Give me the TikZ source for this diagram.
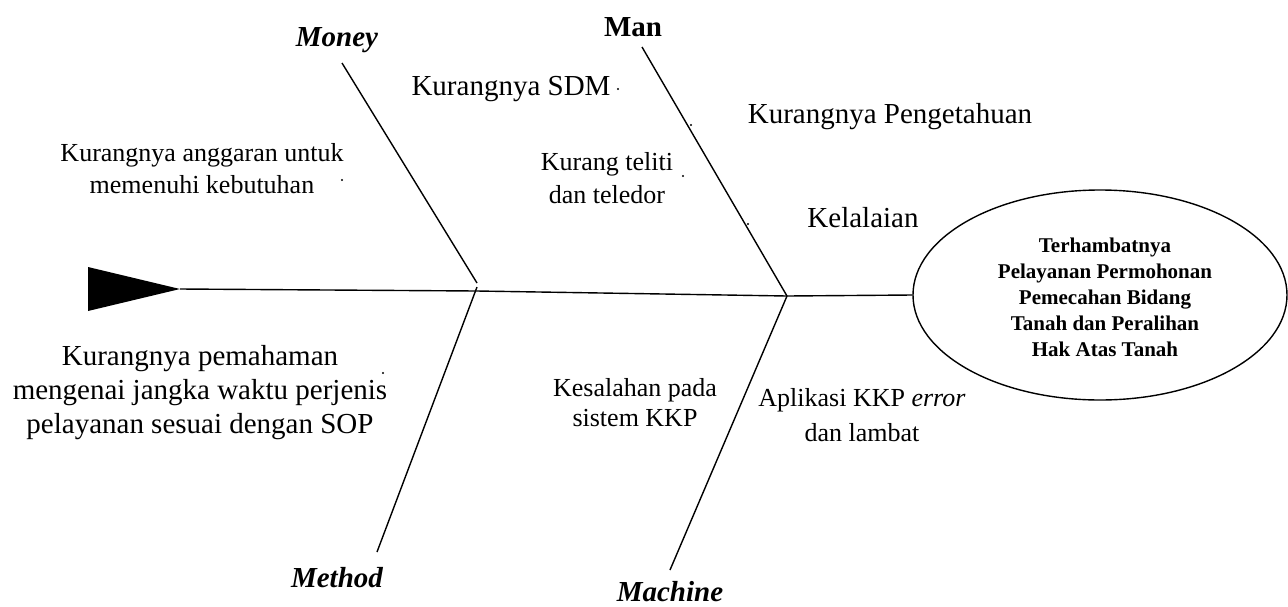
\documentclass[tikz,border=0pt]{standalone}
\usepackage{fontspec}
\setmainfont{Liberation Serif}
\usetikzlibrary{shapes.geometric}
\tikzset{
  bone/.style={line width=1.4pt},
  lbl/.style={font=\fontsize{29}{34}\selectfont\bfseries\itshape, inner sep=0pt},
  big/.style={font=\fontsize{29}{34}\selectfont, align=center, inner sep=0pt},
  mid/.style={font=\fontsize{26}{32}\selectfont, align=center, inner sep=0pt},
  speck/.style={fill=black, circle, inner sep=0pt, minimum size=2.2pt},
}
\begin{document}
\begin{tikzpicture}[x=1pt,y=-1pt]
\useasboundingbox (0,0) rectangle (1288,606);
% effect
\node[draw, ellipse, line width=1.4pt, minimum width=374pt, minimum height=210pt, inner sep=0pt] (effect) at (1100,295) {};
\node[font=\fontsize{21}{26}\selectfont\bfseries, align=center, inner sep=0pt] (efftext) at (1105,297)
  {Terhambatnya\\Pelayanan Permohonan\\Pemecahan Bidang\\Tanah dan Peralihan\\Hak Atas Tanah};
% spine
\coordinate (tip) at (180,289);
\coordinate (j1) at (477,291);
\coordinate (j2) at (787,296);
\coordinate (tailtop) at (88,267);
\coordinate (tailbot) at (88,311);
\fill (tailtop) -- (tip) -- (tailbot) -- cycle;
\draw[bone] (tip) -- (j1) -- (j2) -- (effect.west);
% bones
\coordinate (moneytop) at (342,63);
\coordinate (moneyend) at (477,283);
\coordinate (methodstart) at (477,287);
\coordinate (methodbot) at (377,552);
\coordinate (mantop) at (642,47);
\coordinate (machinebot) at (670,570);
\draw[bone] (moneytop) -- (moneyend);
\draw[bone] (methodstart) -- (methodbot);
\draw[bone] (mantop) -- (j2);
\draw[bone] (j2) -- (machinebot);
% category labels
\node[lbl] (money) at (337,40) {Money};
\node[lbl] (method) at (337,578) {Method};
\node[lbl, font=\fontsize{29}{34}\selectfont\bfseries] (man) at (633,27) {Man};
\node[lbl] (machine) at (670,592) {Machine};
% causes
\node[big] (sdm) at (511,89) {Kurangnya SDM};
\node[big] (penget) at (890,117) {Kurangnya Pengetahuan};
\node[big] (lalai) at (863,218) {Kelalaian};
\node[mid, font=\fontsize{26}{33}\selectfont] (teliti) at (607,178) {Kurang teliti\\dan teledor};
\node[mid] (anggaran) at (202,169) {Kurangnya anggaran untuk\\memenuhi kebutuhan};
\node[big] (paham) at (200,393) {Kurangnya pemahaman\\mengenai jangka waktu perjenis\\pelayanan sesuai dengan SOP};
\node[mid, font=\fontsize{26}{30}\selectfont] (kesalahan) at (635,403) {Kesalahan pada\\sistem KKP};
\node[mid, font=\fontsize{26}{35}\selectfont] (aplikasi) at (862,415) {Aplikasi KKP \textit{error}\\dan lambat};
% specks
\node[speck] (d1) at (618,89) {};
\node[speck] (d2) at (691,125) {};
\node[speck] (d3) at (683,176) {};
\node[speck] (d4) at (748,224) {};
\node[speck] (d5) at (342,180) {};
\node[speck] (d6) at (383,373) {};
\node[speck] (d7) at (674,396) {};
\end{tikzpicture}
\end{document}
